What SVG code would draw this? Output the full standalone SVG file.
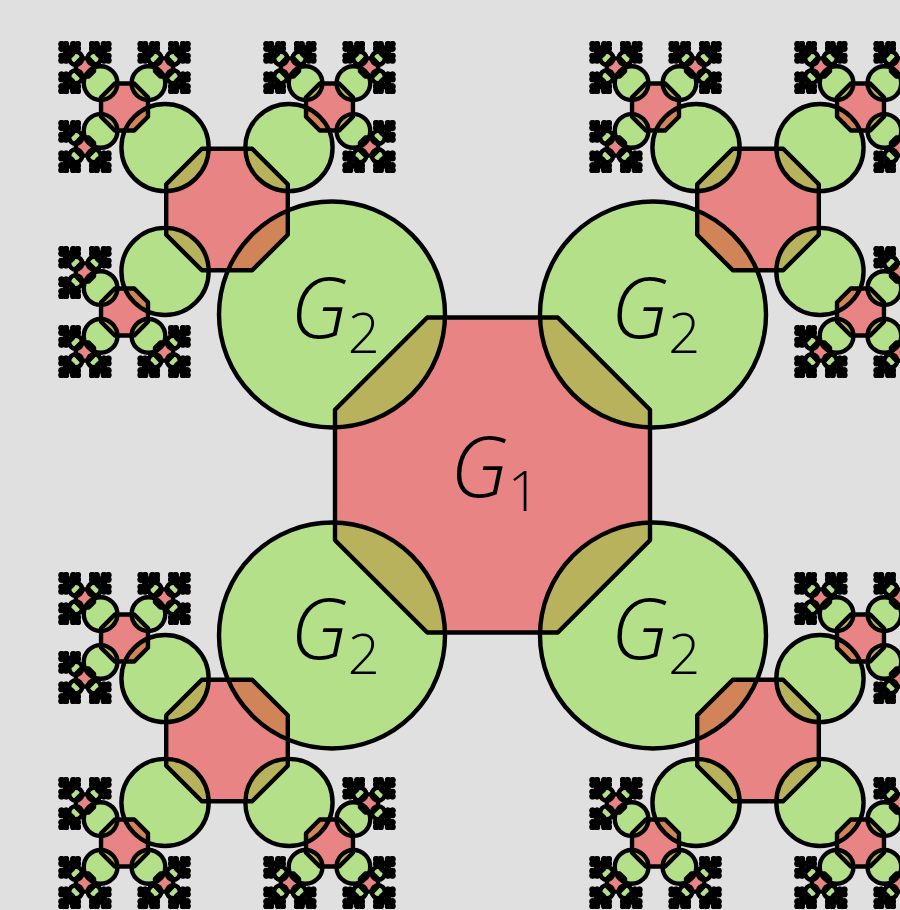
<svg xmlns="http://www.w3.org/2000/svg" xmlns:xlink="http://www.w3.org/1999/xlink" width="900" height="910" viewBox="0 0 900 910">
<style>
.lbl{font-family:"Open Sans","Noto Sans","DejaVu Sans",sans-serif;font-style:italic;font-weight:300;font-size:84px;fill:#000;}
.sub{font-style:normal;font-size:56px;}
</style>
<defs>
<path id="oct" d="M65.24 -157.5L157.5 -65.24V65.24L65.24 157.5H-65.24L-157.5 65.24V-65.24L-65.24 -157.5Z"/>
<circle id="cir" r="113" fill="currentColor"/>
<g id="b0"><use href="#cir"/></g>
<g id="b1"><use href="#cir"/><g transform="translate(-105 -105) scale(0.386)" stroke-width="1330"><use href="#oct"/><use href="#b0" transform="translate(-160.5 -160.5)"/><use href="#b0" transform="translate(160.5 -160.5) rotate(90)"/><use href="#b0" transform="translate(-160.5 160.5) rotate(-90)"/></g></g>
<g id="b2"><use href="#cir"/><g transform="translate(-105 -105) scale(0.386)" stroke-width="513.5"><use href="#oct"/><use href="#b1" transform="translate(-160.5 -160.5)"/><use href="#b1" transform="translate(160.5 -160.5) rotate(90)"/><use href="#b1" transform="translate(-160.5 160.5) rotate(-90)"/></g></g>
<g id="b3"><use href="#cir"/><g transform="translate(-105 -105) scale(0.386)" stroke-width="198.2"><use href="#oct"/><use href="#b2" transform="translate(-160.5 -160.5)"/><use href="#b2" transform="translate(160.5 -160.5) rotate(90)"/><use href="#b2" transform="translate(-160.5 160.5) rotate(-90)"/></g></g>
<g id="b4"><use href="#cir"/><g transform="translate(-105 -105) scale(0.386)" stroke-width="76.5"><use href="#oct"/><use href="#b3" transform="translate(-160.5 -160.5)"/><use href="#b3" transform="translate(160.5 -160.5) rotate(90)"/><use href="#b3" transform="translate(-160.5 160.5) rotate(-90)"/></g></g>
<g id="b5"><use href="#cir"/><g transform="translate(-105 -105) scale(0.386)" stroke-width="29.53"><use href="#oct"/><use href="#b4" transform="translate(-160.5 -160.5)"/><use href="#b4" transform="translate(160.5 -160.5) rotate(90)"/><use href="#b4" transform="translate(-160.5 160.5) rotate(-90)"/></g></g>
<g id="b6"><use href="#cir"/><g transform="translate(-105 -105) scale(0.386)" stroke-width="11.40"><use href="#oct"/><use href="#b5" transform="translate(-160.5 -160.5)"/><use href="#b5" transform="translate(160.5 -160.5) rotate(90)"/><use href="#b5" transform="translate(-160.5 160.5) rotate(-90)"/></g></g>
<g id="tree">
<use href="#oct" transform="translate(492.5 475)"/>
<use href="#b6" transform="translate(332 314.5)"/>
<use href="#b6" transform="translate(653 314.5) rotate(90)"/>
<use href="#b6" transform="translate(332 635.5) rotate(-90)"/>
<use href="#b6" transform="translate(653 635.5) rotate(180)"/>
</g>
</defs>
<rect width="900" height="910" fill="#e0e0e0"/>
<g id="fills" fill="#f02828" color="#88e034" fill-opacity="0.5" stroke="none">
<use href="#tree"/>
</g>
<g id="outlines" fill="none" color="transparent" stroke="#000" stroke-width="4.4" stroke-linejoin="round">
<use href="#tree"/>
</g>
<g id="G1"><text class="lbl" x="495" y="497" text-anchor="middle">G<tspan class="sub" dy="14">1</tspan></text></g>
<g id="G2-top-left"><text class="lbl" x="335" y="338" text-anchor="middle">G<tspan class="sub" dy="15">2</tspan></text></g>
<g id="G2-top-right"><text class="lbl" x="655.5" y="338" text-anchor="middle">G<tspan class="sub" dy="15">2</tspan></text></g>
<g id="G2-bottom-left"><text class="lbl" x="335" y="659" text-anchor="middle">G<tspan class="sub" dy="15">2</tspan></text></g>
<g id="G2-bottom-right"><text class="lbl" x="655.5" y="659" text-anchor="middle">G<tspan class="sub" dy="15">2</tspan></text></g>
</svg>
